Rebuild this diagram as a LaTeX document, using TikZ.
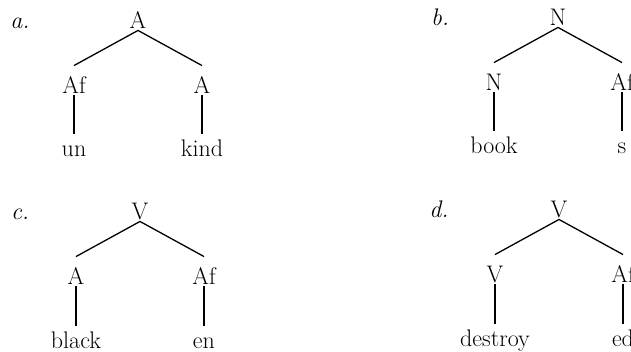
\documentclass[tikz,border=0pt]{standalone}
\usetikzlibrary{positioning}

\begin{document}
\begin{tikzpicture}[x=1pt,y=-1pt,node distance=65pt and 64pt,on grid,
  font=\fontsize{24}{28}\selectfont,
  cat/.style={inner xsep=1pt,inner ysep=2pt,text height=16.5pt,text depth=0pt},
  branch/.style={line width=1.3pt},
  stem/.style={line width=1.3pt,shorten >=4pt}]
  \clip (0,0) rectangle (631,352);

  \node[cat] (aroot) at (138,20) {A};
  \node[cat,left=118pt of aroot] (alab) {\textit{a.}};
  \node[cat,below left=of aroot] (aaf) {Af};
  \node[cat,below right=of aroot] (aa) {A};
  \node[cat,below=63pt of aaf] (aun) {un};
  \node[cat,below=63pt of aa] (akind) {kind};
  \draw[branch] (aroot.south) -- ([yshift=9pt]aaf.north);
  \draw[branch] (aroot.south) -- ([yshift=9pt]aa.north);
  \draw[stem] (aaf.south) -- (aun.north);
  \draw[stem] (aa.south) -- (akind.north);

  \node[cat] (broot) at (558,17) {N};
  \node[cat,left=118pt of broot] (blab) {\textit{b.}};
  \node[cat,below left=of broot] (bn) {N};
  \node[cat,below right=of broot] (baf) {Af};
  \node[cat,below=63pt of bn] (bbook) {book};
  \node[cat,below=63pt of baf] (bs) {s};
  \draw[branch] (broot.south) -- ([yshift=9pt]bn.north);
  \draw[branch] (broot.south) -- ([yshift=9pt]baf.north);
  \draw[stem] (bn.south) -- (bbook.north);
  \draw[stem] (baf.south) -- (bs.north);

  \node[cat] (croot) at (140,211) {V};
  \node[cat,left=120pt of croot] (clab) {\textit{c.}};
  \node[cat,below left=of croot] (ca) {A};
  \node[cat,below right=of croot] (caf) {Af};
  \node[cat,below=64pt of ca] (cblack) {black};
  \node[cat,below=64pt of caf] (cen) {en};
  \draw[branch] (croot.south) -- ([yshift=9pt]ca.north);
  \draw[branch] (croot.south) -- ([yshift=9pt]caf.north);
  \draw[stem] (ca.south) -- (cblack.north);
  \draw[stem] (caf.south) -- (cen.north);

  \node[cat] (droot) at (559,209) {V};
  \node[cat,left=120pt of droot] (dlab) {\textit{d.}};
  \node[cat,below left=of droot] (dv) {V};
  \node[cat,below right=of droot] (daf) {Af};
  \node[cat,below=64pt of dv] (ddestroy) {destroy};
  \node[cat,below=64pt of daf] (ded) {ed};
  \draw[branch] (droot.south) -- ([yshift=9pt]dv.north);
  \draw[branch] (droot.south) -- ([yshift=9pt]daf.north);
  \draw[stem] (dv.south) -- (ddestroy.north);
  \draw[stem] (daf.south) -- (ded.north);
\end{tikzpicture}
\end{document}
